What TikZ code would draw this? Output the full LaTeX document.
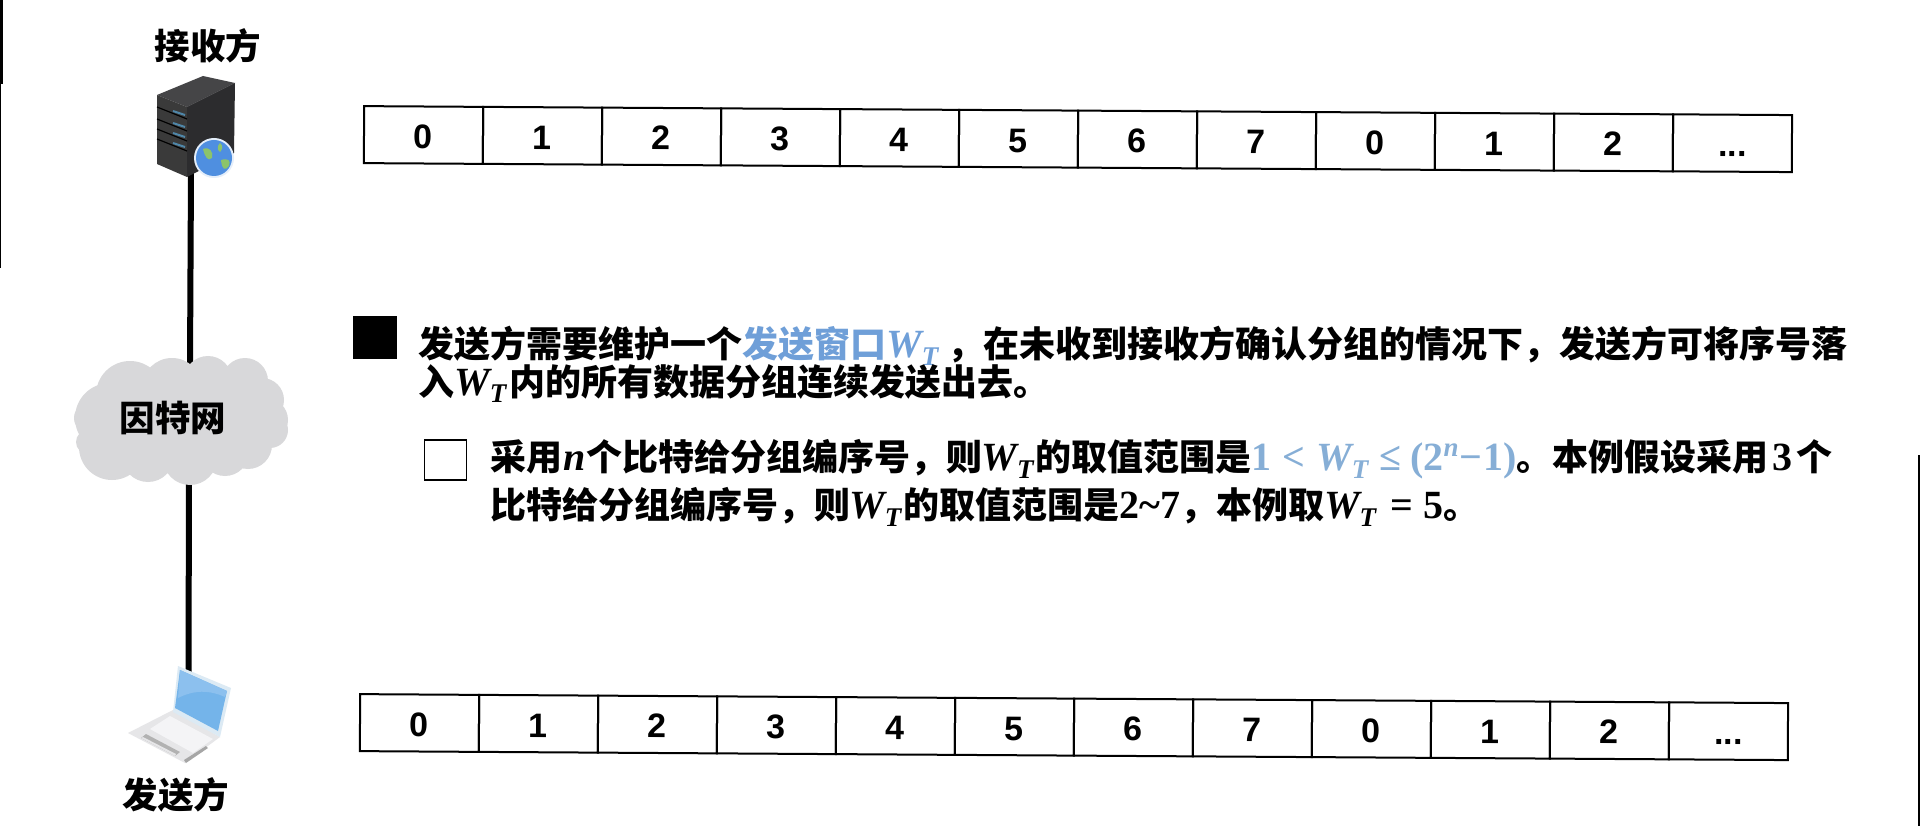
\documentclass[tikz,border=0pt]{standalone}
\usepackage{fontspec}
\setmainfont{Noto Sans CJK SC}
\newfontfamily\numfont{Liberation Sans}
\newfontfamily\mathfont{Liberation Serif}
\definecolor{srvdark}{HTML}{3A3A3A}
\definecolor{srvside}{HTML}{2C2C2E}
\definecolor{srvtop}{HTML}{454547}
\definecolor{slotblue}{HTML}{4F86A8}
\definecolor{globeblue}{HTML}{4F8FE0}
\definecolor{globegreen}{HTML}{8CC46A}
\definecolor{cloudgrey}{HTML}{D8D8DA}
\definecolor{lapblue}{HTML}{74B4EA}
\definecolor{lapblue2}{HTML}{8CC0EE}
\definecolor{lapframe}{HTML}{DCEAF4}
\definecolor{lapbase}{HTML}{E6E6E8}
\definecolor{lapkey}{HTML}{F4F4F6}
\definecolor{hlblue}{HTML}{6F9FD8}
\definecolor{mathblue}{HTML}{86AED6}
\newcommand{\myW}{{\mathfont\fontsize{40}{40}\selectfont\itshape W\raisebox{-8pt}{\fontsize{27}{27}\selectfont T\kern3pt}}}
\newcommand{\myN}{{\mathfont\fontsize{40}{40}\selectfont\itshape\kern1pt n\kern1pt}}
\newcommand{\myR}[1]{{\mathfont\fontsize{40}{40}\selectfont #1}}
\newcommand{\dotstr}{...}
\tikzset{
  cell/.style={draw=black,line width=2pt,rectangle,minimum width=119pt,minimum height=57pt,inner sep=0pt,
    font=\numfont\bfseries\fontsize{34}{34}\selectfont,text height=27pt,text depth=0pt,transform shape},
  caption/.style={font=\bfseries\fontsize{35.5}{38}\selectfont,inner sep=0pt,text=black},
  para/.style={font=\bfseries\fontsize{36}{38}\selectfont,inner sep=0pt,text=black,anchor=base west},
  link/.style={draw=black,line width=6pt}
}
\begin{document}
\begin{tikzpicture}[x=1pt,y=-1pt]
\useasboundingbox (0,0) rectangle (1920,826);
\fill[white] (0,0) rectangle (1920,826);
% edge marks
\fill[black] (0,0) rectangle (2.5,84);
\fill[black] (0,84) rectangle (1.2,268);
\fill[black] (1917.5,455) rectangle (1920,826);
% connectors' ends
\coordinate (srvb) at (191,172);
\coordinate (cloudt) at (190,365);
\coordinate (cloudb) at (189,478);
\coordinate (lapt) at (188.5,672);
\draw[link] (srvb) -- (cloudt);
\draw[link] (cloudb) -- (lapt);
% labels
\node[caption] (recv) at (208,46) {接收方};
\node[caption] (send) at (176,795) {发送方};
% server
\fill[srvtop] (157,95) -- (203,76) -- (235,83) -- (187,107) -- cycle;
\fill[srvdark] (157,95) -- (187,107) -- (187,177) -- (157,164) -- cycle;
\fill[srvside] (187,107) -- (235,83) -- (234,153) -- (187,177) -- cycle;
\foreach \yy in {110,122,132,142}{
  \draw[black,line width=1.2pt] (157,\yy-3) -- (187,\yy+9);
  \draw[slotblue,line width=2pt] (173,\yy+1) -- (185,\yy+5);
}
\fill[white!85!globeblue] (214,158) circle (20);
\fill[globeblue] (214,158) circle (18);
\fill[globegreen] (203,149) .. controls (209,146) and (214,152) .. (212,158) .. controls (208,162) and (205,157) .. (203,149);
\fill[globegreen] (220,143) .. controls (224,146) and (222,150) .. (220,152) .. controls (217,150) and (217,146) .. (220,143);
\fill[globegreen] (221,160) .. controls (228,158) and (231,160) .. (229,166) .. controls (225,171) and (222,170) .. (221,160);
% cloud
\fill[cloudgrey] (182,420) ellipse (88 and 50)
  (130,395) circle (34) (172,388) circle (30) (208,380) circle (24) (245,381) circle (23) (262,400) circle (22)
  (266,420) circle (22) (248,445) circle (24) (110,418) circle (35) (112,447) circle (33) (148,456) circle (26)
  (190,458) circle (27) (225,452) circle (24) (90,418) circle (16) (270,430) circle (18) (88,442) circle (12);
\node[caption] (net) at (173,418) {因特网};
% laptop
\fill[lapbase] (173,710) -- (220,737) -- (185,763) -- (128,733) -- cycle;
\fill[lapkey] (170,716) -- (213,739) -- (193,753) -- (150,729) -- cycle;
\fill[black!30] (141,738) -- (175,756) -- (180,752) -- (146,734) -- cycle;
\fill[lapbase] (141,738) -- (175,756) -- (176,754) -- (143,737) -- cycle;
\fill[black!35] (184,760) -- (206,746) -- (208,748) -- (186,763) -- cycle;
\fill[lapframe] (178,666) -- (231,688) -- (220,737) -- (173,712) -- cycle;
\fill[lapblue] (180,670) -- (227,691) -- (218,731) -- (175,708) -- cycle;
\fill[lapblue2] (180,670) -- (227,691) -- (225,697) .. controls (205,688) and (190,692) .. (178,698) -- cycle;
% top row
\begin{scope}[shift={(423.5,135)},rotate=-0.36]
  \foreach \lab [count=\i from 0] in {0,1,2,3,4,5,6,7,0,1,2,\dotstr}
    \node[cell] (t\i) at (\i*119,0) {\lab};
\end{scope}
% bottom row
\begin{scope}[shift={(419.5,723)},rotate=-0.36]
  \foreach \lab [count=\i from 0] in {0,1,2,3,4,5,6,7,0,1,2,\dotstr}
    \node[cell] (b\i) at (\i*119,0) {\lab};
\end{scope}
% bullets
\node[draw=none,fill=black,minimum width=44pt,minimum height=43pt,inner sep=0pt] (bulA) at (375,337.5) {};
\node[draw=black,line width=1.8pt,fill=white,minimum width=42pt,minimum height=40pt,inner sep=0pt] (bulB) at (445.5,460) {};
% text
\node[para] (l1) at (418,357) {发送方需要维护一个\textcolor{hlblue}{发送窗口\myW}\,，在未收到接收方确认分组的情况下，发送方可将序号落};
\node[para] (l2) at (418,395) {入\myW 内的所有数据分组连续发送出去。};
\node[para] (l3) at (490,470) {采用\myN 个比特给分组编序号，则\kern-1pt\myW\kern-1pt 的取值范围是\textcolor{mathblue}{\myR{1\kern11pt<\kern11pt}\myW\myR{\kern8pt≤\kern9pt(2\raisebox{14pt}{\fontsize{27}{27}\selectfont\itshape n}\kern1pt−\kern1pt1)}}。本例假设采用\myR{\kern4pt 3\kern4pt}个};
\node[para] (l4) at (490,518) {比特给分组编序号，则\kern-1pt\myW\kern-1pt 的取值范围是\myR{2\textasciitilde 7}，本例取\myW\myR{\kern11pt=\kern11pt5}。};
\end{tikzpicture}
\end{document}
